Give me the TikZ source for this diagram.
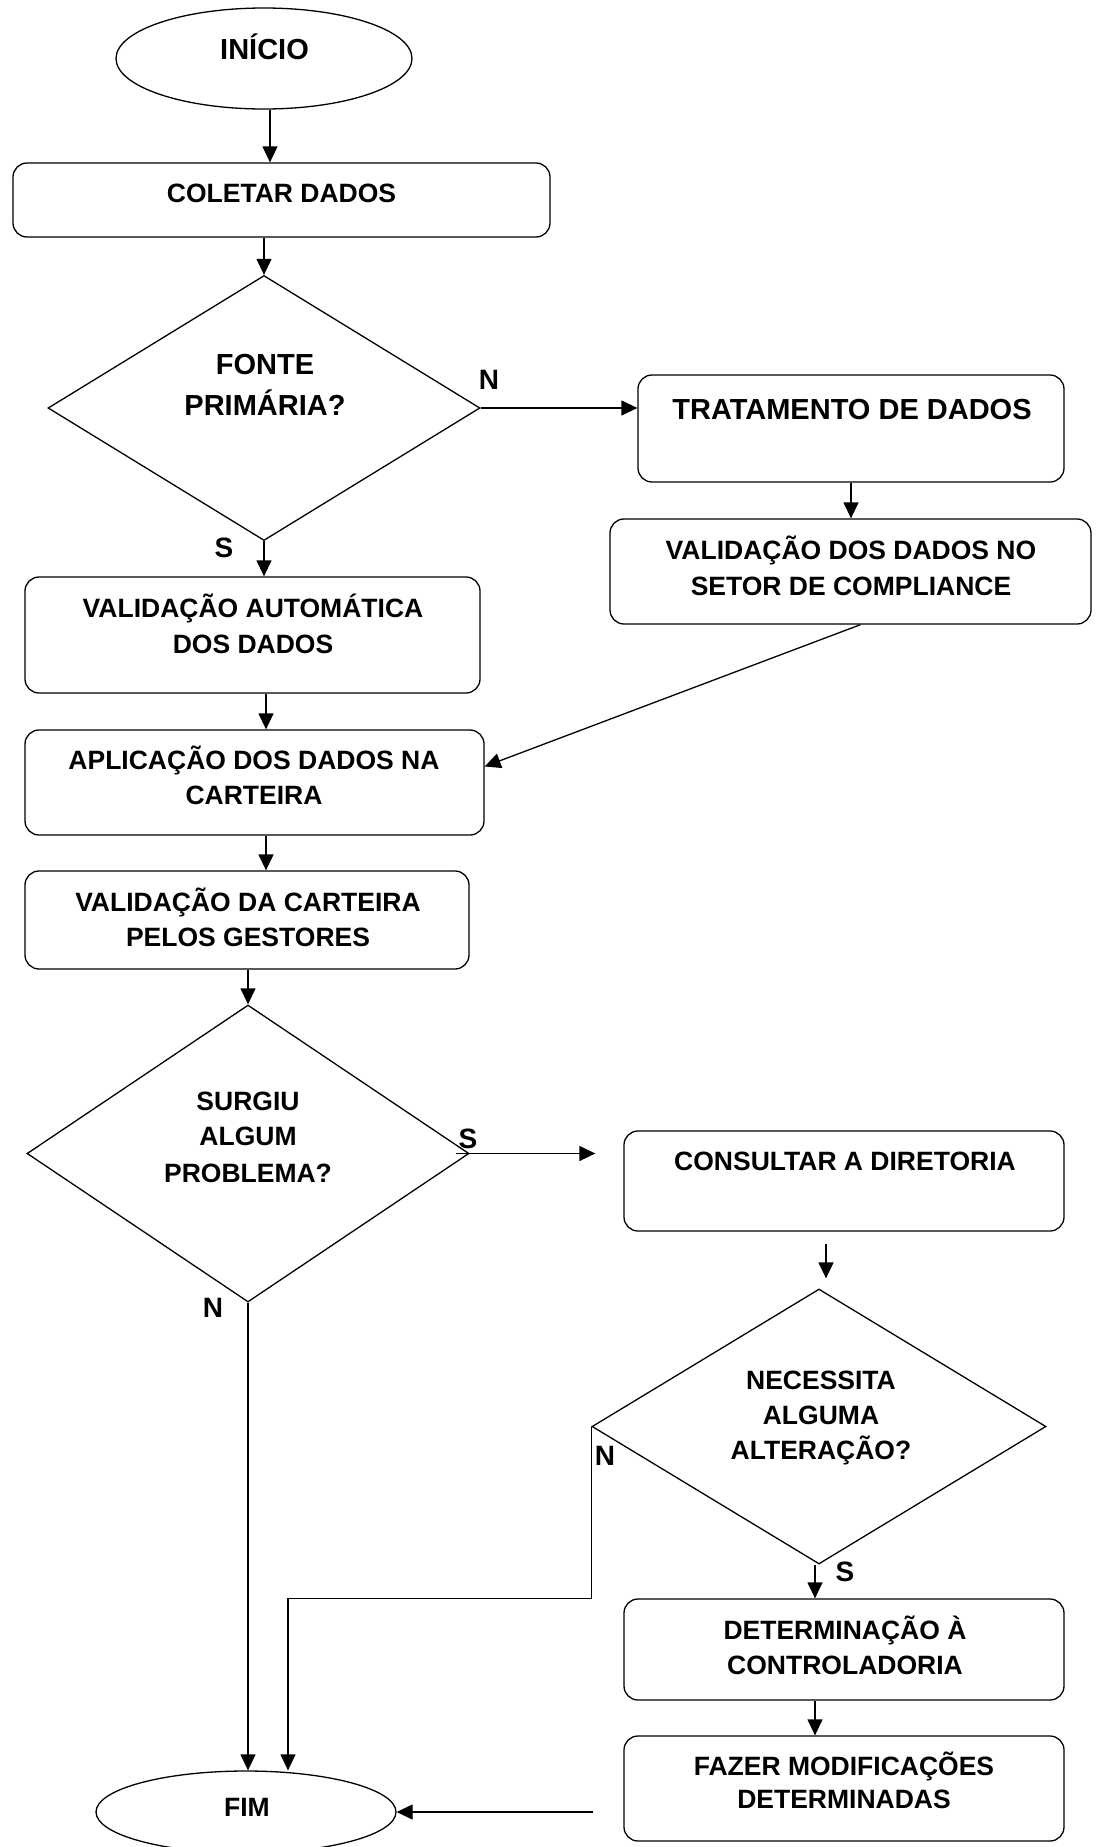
\documentclass[tikz,border=0pt]{standalone}
\usepackage{fontspec}
\setmainfont{Liberation Sans}
\usetikzlibrary{shapes.geometric,arrows.meta,calc}
\begin{document}
\begin{tikzpicture}[x=1pt,y=-1pt,
  line width=1.3pt,
  box/.style={draw, rectangle, rounded corners=14pt, inner sep=0pt, line width=1.3pt},
  oval/.style={draw, ellipse, inner sep=0pt, line width=1.3pt},
  dec/.style={draw, diamond, inner sep=0pt, line width=1.3pt},
  txt/.style={anchor=base, inner sep=0pt, font=\bfseries\fontsize{26.5}{32}\selectfont},
  big/.style={txt, font=\bfseries\fontsize{29}{34}\selectfont},
  lbl/.style={txt, font=\bfseries\fontsize{28}{32}\selectfont},
  arr/.style={-{Triangle[length=16pt,width=15pt]}, line width=1.3pt}]
\useasboundingbox (0,0) rectangle (1096,1847);
\fill[white] (0,0) rectangle (1096,1847);

% shapes
\node[oval, minimum width=296pt, minimum height=101pt] (inicio) at (264,58.5) {};
\node[box, minimum width=537pt, minimum height=74pt] (coletar) at (281.5,200) {};
\node[dec, minimum width=432pt, minimum height=265pt] (d1) at (264,408) {};
\node[box, minimum width=426pt, minimum height=107pt] (trat) at (851,428.5) {};
\node[box, minimum width=481pt, minimum height=105pt] (vcomp) at (850.5,571.5) {};
\node[box, minimum width=455pt, minimum height=116pt] (vauto) at (252.5,635) {};
\node[box, minimum width=459pt, minimum height=105pt] (aplic) at (254.5,782.5) {};
\node[box, minimum width=444pt, minimum height=98pt] (vcart) at (247,920) {};
\node[dec, minimum width=442pt, minimum height=297pt] (d2) at (248,1153.5) {};
\node[box, minimum width=440pt, minimum height=100pt] (consult) at (844,1181) {};
\node[dec, minimum width=454pt, minimum height=275pt] (d3) at (819,1426.5) {};
\node[box, minimum width=440pt, minimum height=101pt] (det) at (844,1649.5) {};
\node[box, minimum width=440pt, minimum height=105pt] (fazer) at (844,1788.5) {};
\node[oval, minimum width=300pt, minimum height=82pt] (fim) at (246,1812) {};

% texts
\node[big] (tinicio) at (264.5,59) {INÍCIO};
\node[txt] (tcoletar) at (281.5,202) {COLETAR DADOS};
\node[big] (td1a) at (265,374) {FONTE};
\node[big] (td1b) at (265,415) {PRIMÁRIA?};
\node[big] (ttrat) at (852,419) {TRATAMENTO DE DADOS};
\node[txt] (tvcompa) at (851,559) {VALIDAÇÃO DOS DADOS NO};
\node[txt] (tvcompb) at (851,595) {SETOR DE COMPLIANCE};
\node[txt] (tvautoa) at (253,617) {VALIDAÇÃO AUTOMÁTICA};
\node[txt] (tvautob) at (253,653) {DOS DADOS};
\node[txt] (tap1) at (254,769) {APLICAÇÃO DOS DADOS NA};
\node[txt] (tap2) at (254,804) {CARTEIRA};
\node[txt] (tvc1) at (248,911) {VALIDAÇÃO DA CARTEIRA};
\node[txt] (tvc2) at (248,946) {PELOS GESTORES};
\node[txt] (td2a) at (248,1110) {SURGIU};
\node[txt] (td2b) at (248,1145) {ALGUM};
\node[txt] (td2c) at (248,1182) {PROBLEMA?};
\node[txt] (tcons) at (845,1170) {CONSULTAR A DIRETORIA};
\node[txt] (td3a) at (821,1389) {NECESSITA};
\node[txt] (td3b) at (821,1424) {ALGUMA};
\node[txt] (td3c) at (821,1459) {ALTERAÇÃO?};
\node[txt] (tdet1) at (845,1639) {DETERMINAÇÃO À};
\node[txt] (tdet2) at (845,1674) {CONTROLADORIA};
\node[txt] (tfaz1) at (844,1775) {FAZER MODIFICAÇÕES};
\node[txt] (tfaz2) at (844,1808) {DETERMINADAS};
\node[txt] (tfim) at (247,1816) {FIM};

% branch labels
\node[lbl] (ln1) at (489,389) {N};
\node[lbl] (ls1) at (224,557) {S};
\node[lbl] (ls2) at (468,1148) {S};
\node[lbl] (ln2) at (213,1317) {N};
\node[lbl] (ln3) at (605,1465) {N};
\node[lbl] (ls3) at (845,1581) {S};

% connectors
\coordinate (a1) at ($(inicio.south)+(6,0)$);
\draw[arr] (a1) -- (a1 |- coletar.north);
\draw[arr] (d1.north |- coletar.south) -- (d1.north);
\draw[arr] (d1.east) -- (d1.east -| trat.west);
\draw[arr] (d1.south) -- (d1.south |- vauto.north);
\draw[arr] (trat.south) -- (trat.south |- vcomp.north);
\coordinate (a3) at ($(vcomp.south)+(10,0)$);
\draw[arr] (a3) -- ($(aplic.east)+(0,-16)$);
\coordinate (a4) at ($(vauto.south)+(13.5,0)$);
\draw[arr] (a4) -- (a4 |- aplic.north);
\coordinate (a5) at ($(aplic.south)+(11.5,0)$);
\draw[arr] (a5) -- (a5 |- vcart.north);
\draw[arr] (d2.north |- vcart.south) -- (d2.north);
\draw[arr] ($(d2.east)+(-14,0)$) -- ($(d2.east -| consult.west)+(-28,0)$);
\draw[arr] ($(consult.south)+(-18,12)$) -- ($(d3.north)+(7,-10)$);
\coordinate (a6) at ($(d3.south)+(-4,0)$);
\draw[arr] (a6) -- (a6 |- det.north);
\draw[arr] (a6 |- det.south) -- (a6 |- fazer.north);
\draw[arr] ($(fazer.west |- fim.east)+(-30,0)$) -- (fim.east);
\draw[arr] (d2.south) -- (d2.south |- fim.north);
\coordinate (k1) at (d3.west |- det.north);
\coordinate (k2) at ($(fim.north |- det.north)+(42,0)$);
\draw[arr] (d3.west) -- (k1) -- (k2) -- (k2 |- fim.north);
\end{tikzpicture}
\end{document}
